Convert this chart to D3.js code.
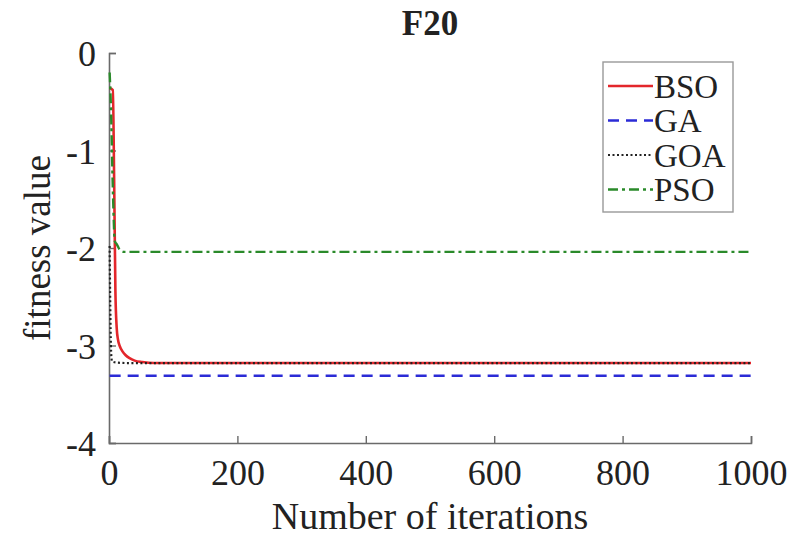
<!DOCTYPE html>
<html>
<head>
<meta charset="utf-8">
<script src="https://cdn.jsdelivr.net/npm/d3@7"></script>
<style>
  body { margin: 0; background: #fff; }
  svg text { font-family: "Liberation Serif", "Times New Roman", serif; fill: #222; }
</style>
</head>
<body>
<div id="chart"></div>
<script>
// values
const xTicks = [0, 200, 400, 600, 800, 1000];
const yTicks = [0, -1, -2, -3, -4];
const seriesNames = ["BSO", "GA", "GOA", "PSO"];

const bsoIter = [1, 6, 8, 10, 12, 14, 17, 21, 26, 32, 40, 52, 70, 1000];
const bsoFit  = [-0.36, -0.38, -1.3, -2.45, -2.82, -2.94, -3.01, -3.06, -3.1, -3.13, -3.155, -3.17, -3.18, -3.18];

const gaIter = [1, 1000];
const gaFit  = [-3.31, -3.31];

const goaIter = [1, 2, 3, 4, 5, 12, 30, 1000];
const goaFit  = [-1.98, -2.6, -3.0, -3.14, -3.165, -3.175, -3.18, -3.18];

const psoIter = [1, 3, 6, 9, 12, 17, 24, 1000];
const psoFit  = [-0.2, -0.55, -1.4, -1.93, -1.96, -2.02, -2.04, -2.04];

const w = 800, h = 537;
const margin = {left: 109, right: 49, top: 53, bottom: 94};
const serif = "Liberation Serif";

const svg = d3.select("#chart").append("svg")
    .attr("width", w)
    .attr("height", h);

const x = d3.scaleLinear().domain([0, 1000]).range([margin.left, w - margin.right]);
const y = d3.scaleLinear().domain([-4, 0]).range([h - margin.bottom, margin.top]);

// axes (left + bottom only, ticks pointing inwards like matlab)
const axisColor = "#6a6a6a";
const xAxis = svg.append("g")
    .attr("transform", `translate(0,${y(-4)})`)
    .call(d3.axisBottom(x).tickValues(xTicks).tickFormat(d3.format("d"))
        .tickSizeInner(-7).tickSizeOuter(-7).tickPadding(16));
const yAxis = svg.append("g")
    .attr("transform", `translate(${x(0)},0)`)
    .call(d3.axisLeft(y).tickValues(yTicks).tickFormat(d => String(d))
        .tickSizeInner(-7).tickSizeOuter(-7).tickPadding(13));

[xAxis, yAxis].forEach(g => {
    g.attr("font-family", serif).attr("font-size", 36);
    g.select(".domain").attr("stroke", axisColor).attr("stroke-width", 1.6);
    g.selectAll(".tick line").attr("stroke", axisColor).attr("stroke-width", 1.4);
    g.selectAll(".tick text")
        .attr("font-family", serif)
        .attr("font-size", 36)
        .attr("fill", "#222");
});
yAxis.selectAll(".tick text").attr("dy", "0.36em");

// curves
const makeLine = d3.line()
    .x(d => x(d[0]))
    .y(d => y(d[1]))
    .curve(d3.curveMonotoneX);

const zip = (a, b) => a.map((v, i) => [v, b[i]]);

const series = [
    {name: seriesNames[0], pts: zip(bsoIter, bsoFit), color: "#e3262b", dash: null, width: 2.6},
    {name: seriesNames[1], pts: zip(gaIter, gaFit),   color: "#2b2bd6", dash: "11,7", width: 2.4},
    {name: seriesNames[2], pts: zip(goaIter, goaFit), color: "#222", dash: "2,2.5", width: 2.2},
    {name: seriesNames[3], pts: zip(psoIter, psoFit), color: "#2a8a2a", dash: "10,4,3,4", width: 2.4}
];

svg.append("g")
    .selectAll("path")
    .data(series)
    .enter()
    .append("path")
        .attr("d", d => makeLine(d.pts))
        .attr("fill", "none")
        .attr("stroke", d => d.color)
        .attr("stroke-width", d => d.width)
        .attr("stroke-dasharray", d => d.dash);

// title + axis labels
svg.append("text")
    .attr("x", 430)
    .attr("y", 35)
    .attr("text-anchor", "middle")
    .attr("font-size", 35)
    .attr("font-weight", "bold")
    .text("F20");

svg.append("text")
    .attr("x", 430)
    .attr("y", 529)
    .attr("text-anchor", "middle")
    .attr("font-size", 38)
    .text("Number of iterations");

svg.append("text")
    .attr("transform", `translate(50,${y(-2)}) rotate(-90)`)
    .attr("text-anchor", "middle")
    .attr("font-size", 37)
    .text("fitness value");

// legend
const legend = svg.append("g").attr("transform", "translate(603,62)");
legend.append("rect")
    .attr("width", 130)
    .attr("height", 150)
    .attr("fill", "#fff")
    .attr("stroke", "#999")
    .attr("stroke-width", 1.4);

const rows = legend.selectAll("g.row")
    .data(series)
    .enter()
    .append("g")
        .attr("class", "row")
        .attr("transform", (d, i) => `translate(0,${24 + i * 34.5})`);

rows.append("line")
    .attr("x1", 5).attr("x2", 50)
    .attr("y1", 0).attr("y2", 0)
    .attr("stroke", d => d.color)
    .attr("stroke-width", d => d.width)
    .attr("stroke-dasharray", d => d.dash);

rows.append("text")
    .attr("x", 51)
    .attr("y", 0)
    .attr("dy", "0.35em")
    .attr("font-size", 33)
    .text(d => d.name);
</script>
</body>
</html>
